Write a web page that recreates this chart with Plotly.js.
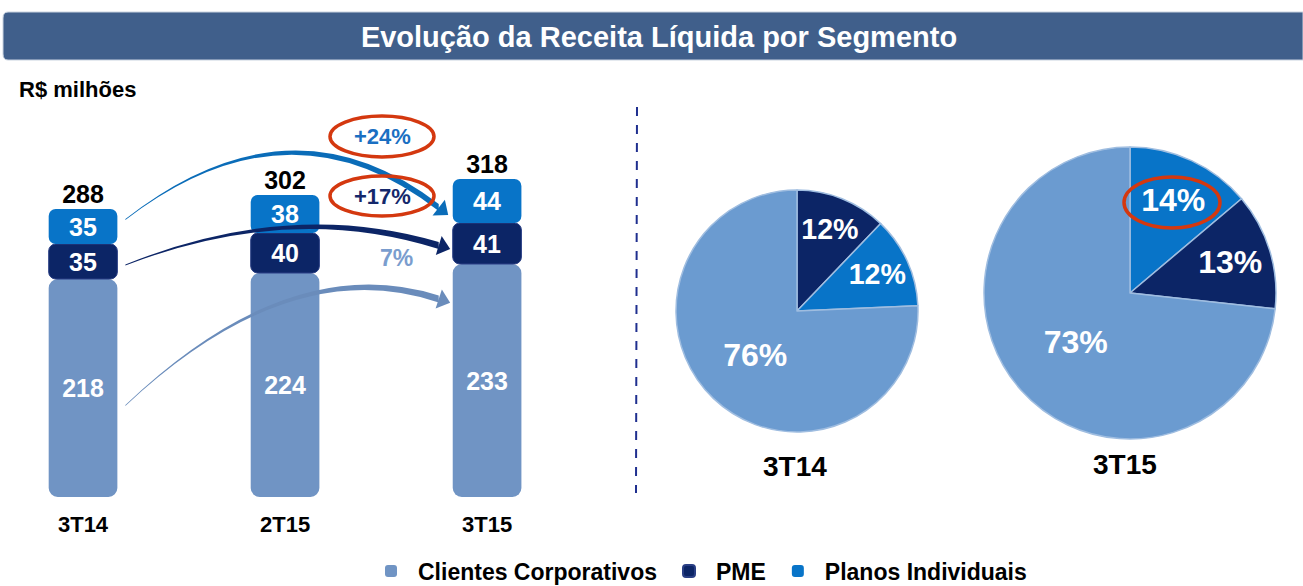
<!DOCTYPE html>
<html><head><meta charset="utf-8">
<script src="https://cdn.plot.ly/plotly-3.0.1.min.js"></script>
<style>html,body{margin:0;padding:0;background:#fff}#chart{width:1303px;height:586px}</style>
</head><body><div id="chart"></div>
<script>
// ---- data ----
const categories = ['3T14', '2T15', '3T15'];
const clientesCorporativos = [218, 224, 233];
const pme = [35, 40, 41];
const planosIndividuais = [35, 38, 44];
const totals = [288, 302, 318];
const seriesNames = ['Clientes Corporativos', 'PME', 'Planos Individuais'];
const growthLabels = ['+24%', '+17%', '7%'];
const pieTitles = ['3T14', '3T15'];

// ---- styles ----
const W = 1303, H = 586;
const FONT = 'Liberation Sans, Arial, sans-serif';
const cLight = '#7094c4', cLightPie = '#6b9bd0', cNavy = '#0c2566', cBlue = '#0874c8';
const xIdx = categories.map((c, i) => i);

// axis geometry (pixels)
const plotL = 20, plotR = 560, plotB = 497, plotT = 100;
const xr = [-0.312, 2.361];
const yMax = 397;
const px2x = p => xr[0] + (p - plotL) / (plotR - plotL) * (xr[1] - xr[0]);
const py2y = p => (plotB - p) / (plotB - plotT) * yMax;
const x2px = x => plotL + (x - xr[0]) / (xr[1] - xr[0]) * (plotR - plotL);
const y2py = y => plotB - y / yMax * (plotB - plotT);

const pmeBase = clientesCorporativos.slice();
const planosBase = clientesCorporativos.map((v, i) => v + pme[i]);

const barCommon = {type: 'bar', width: 0.34, textposition: 'inside', insidetextanchor: 'middle',
  textfont: {family: FONT, size: 25, color: '#ffffff', weight: 'bold'}, hoverinfo: 'skip',
  constraintext: 'none', cliponaxis: false, textangle: 0};

const traces = [
  Object.assign({}, barCommon, {name: seriesNames[0], x: xIdx, y: clientesCorporativos, base: 0,
    text: clientesCorporativos.map(String), marker: {color: cLight, cornerradius: 9}}),
  Object.assign({}, barCommon, {name: seriesNames[1], x: xIdx, y: pme, base: pmeBase,
    text: pme.map(String), marker: {color: cNavy, cornerradius: 7, line: {color: '#2a3f85', width: 1}}}),
  Object.assign({}, barCommon, {name: seriesNames[2], x: xIdx, y: planosIndividuais, base: planosBase,
    text: planosIndividuais.map(String), marker: {color: cBlue, cornerradius: 7}}),
  {type: 'scatter', mode: 'text', x: xIdx, y: totals, text: totals.map(String), textposition: 'top center',
    textfont: {family: FONT, size: 25, color: '#000', weight: 'bold'}, showlegend: false, hoverinfo: 'skip', cliponaxis: false},
  {type: 'pie', labels: [seriesNames[1], seriesNames[2], seriesNames[0]],
    values: [pme[0], planosIndividuais[0], clientesCorporativos[0]],
    marker: {colors: [cNavy, cBlue, cLightPie], line: {color: '#9fbde0', width: 1.5}},
    sort: false, direction: 'clockwise', rotation: 0, showlegend: false,
    texttemplate: '%{percent:.0%}', textposition: 'inside', insidetextorientation: 'horizontal',
    textfont: {family: FONT, size: 32, color: '#fff', weight: 'bold'}, hoverinfo: 'skip',
    domain: {x: [676 / W, 918 / W], y: [(H - 432) / H, (H - 190) / H]}},
  {type: 'pie', labels: [seriesNames[2], seriesNames[1], seriesNames[0]],
    values: [planosIndividuais[2], pme[2], clientesCorporativos[2]],
    marker: {colors: [cBlue, cNavy, cLightPie], line: {color: '#9fbde0', width: 1.5}},
    sort: false, direction: 'clockwise', rotation: 0, showlegend: false,
    texttemplate: '%{percent:.0%}', textposition: 'inside', insidetextorientation: 'horizontal',
    textfont: {family: FONT, size: 32, color: '#fff', weight: 'bold'}, hoverinfo: 'skip',
    domain: {x: [984 / W, 1276 / W], y: [(H - 439) / H, (H - 147) / H]}}
];

// ---- decorative arrows (tapered curves) in data coordinates ----
function arrow(x0p, y0, x1p, y1, cxp, cyp, color) {
  const P0 = [x0p, y2py(y0)], P1 = [x1p, y2py(y1)], C = [cxp, cyp];
  const t0 = 1, t1 = 7, tm = 4;
  const pts = (p) => `${px2x(p[0])},${py2y(p[1])}`;
  let d = `M${pts([P0[0], P0[1] - t0 / 2])} Q${pts([C[0], C[1] - tm / 2])} ${pts([P1[0], P1[1] - t1 / 2])}`;
  d += ` L${pts([P1[0], P1[1] + t1 / 2])} Q${pts([C[0], C[1] + tm / 2])} ${pts([P0[0], P0[1] + t0 / 2])} Z`;
  let dx = P1[0] - C[0], dy = P1[1] - C[1];
  const L = Math.hypot(dx, dy); dx /= L; dy /= L;
  const nx = -dy, ny = dx;
  const tip = [P1[0] + dx * 12, P1[1] + dy * 12];
  const a = [P1[0] + nx * 10, P1[1] + ny * 10], b = [P1[0] - nx * 10, P1[1] - ny * 10];
  const head = `M${pts(a)} L${pts(tip)} L${pts(b)} Z`;
  return [
    {type: 'path', xref: 'x', yref: 'y', path: d, fillcolor: color, line: {width: 0}, layer: 'above'},
    {type: 'path', xref: 'x', yref: 'y', path: head, fillcolor: color, line: {width: 0}, layer: 'above'}
  ];
}
const startX = x2px(0.17) + 8, endX = x2px(1.83) - 14;
const shapes = [
  {type: 'path', xref: 'paper', yref: 'paper', layer: 'below',
   path: `M${8 / W},${(H - 12) / H} L${1303 / W},${(H - 12) / H} L${1303 / W},${(H - 60) / H} L${8 / W},${(H - 60) / H} Q${3 / W},${(H - 60) / H} ${3 / W},${(H - 54) / H} L${3 / W},${(H - 18) / H} Q${3 / W},${(H - 12) / H} ${8 / W},${(H - 12) / H} Z`,
   fillcolor: '#405f8b', line: {color: '#c9d3e0', width: 1}},
  {type: 'line', xref: 'paper', yref: 'paper', x0: 637 / W, x1: 636 / W, y0: (H - 107) / H, y1: (H - 493) / H,
   line: {color: '#1f2f8f', width: 2, dash: 'dash'}},
  ...arrow(startX, planosBase[0] + planosIndividuais[0] * 0.7, endX, planosBase[2] + planosIndividuais[2] * 0.35, 290, 92, '#0a6cb8'),
  ...arrow(startX, pmeBase[0] + pme[0] * 0.4, endX, pmeBase[2] + pme[2] * 0.45, 290, 200, '#0c2566'),
  ...arrow(startX, clientesCorporativos[0] * 0.42, endX, clientesCorporativos[2] * 0.85, 290, 250, '#6a8cbb'),
  {type: 'circle', xref: 'paper', yref: 'paper', x0: 330 / W, x1: 434 / W, y0: (H - 116) / H, y1: (H - 157) / H,
   line: {color: '#d4380f', width: 3.5}},
  {type: 'circle', xref: 'paper', yref: 'paper', x0: 330 / W, x1: 434 / W, y0: (H - 176) / H, y1: (H - 216) / H,
   line: {color: '#d4380f', width: 3.5}},
  {type: 'circle', xref: 'paper', yref: 'paper', x0: 1124 / W, x1: 1220 / W, y0: (H - 177) / H, y1: (H - 228) / H,
   line: {color: '#d4380f', width: 3.5}}
];

const ann = (x, y, text, size, color, extra) => Object.assign({xref: 'paper', yref: 'paper', x: x / W, y: (H - y) / H,
  text, showarrow: false, xanchor: 'center', yanchor: 'middle', font: {family: FONT, size, color, weight: 'bold'}}, extra || {});

const annotations = [
  ann(17, 89, 'R$ milhões', 22, '#000', {xanchor: 'left'}),
  ann(382, 136, growthLabels[0], 22, '#1a6fc2'),
  ann(382, 196, growthLabels[1], 22, '#14286b'),
  ann(396, 258, growthLabels[2], 23, '#7a9dce'),
  ann(795, 466, pieTitles[0], 28, '#000'),
  ann(1125, 464, pieTitles[1], 28, '#000')
];

const layout = {
  width: W, height: H, margin: {l: 0, r: 0, t: 0, b: 0, autoexpand: false}, paper_bgcolor: '#fff', plot_bgcolor: 'rgba(0,0,0,0)',
  title: {text: 'Evolução da Receita Líquida por Segmento', x: 659 / W, xanchor: 'center', y: (H - 37) / H, yanchor: 'middle',
    font: {family: FONT, size: 29, color: '#fff', weight: 'bold'}},
  barmode: 'overlay', showlegend: true,
  xaxis: {domain: [plotL / W, plotR / W], range: xr, tickvals: xIdx, ticktext: categories, showgrid: false, zeroline: false,
    showline: false, ticks: '', tickfont: {family: FONT, size: 22, color: '#000', weight: 'bold'}, ticklabelstandoff: 12,
    fixedrange: true, automargin: false},
  yaxis: {domain: [(H - plotB) / H, (H - plotT) / H], range: [0, yMax], visible: false, fixedrange: true},
  legend: {orientation: 'h', x: 698 / W, xanchor: 'center', y: 15 / H, yanchor: 'middle',
    font: {family: FONT, size: 23, color: '#000', weight: 'bold'}, itemwidth: 44, traceorder: 'normal', itemsizing: 'constant'},
  shapes, annotations
};

Plotly.newPlot('chart', traces, layout, {displayModeBar: false, staticPlot: true});
</script></body></html>
